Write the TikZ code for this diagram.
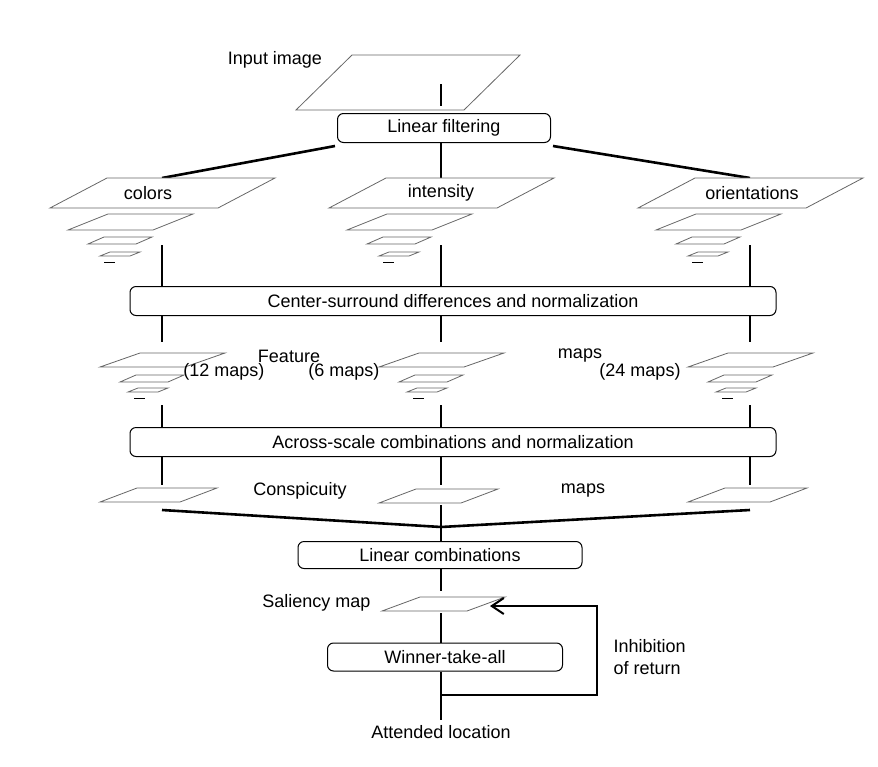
\documentclass[tikz,border=0pt]{standalone}
\usepackage{fontspec}
\setmainfont{Liberation Sans}
\usetikzlibrary{arrows.meta}
\newcommand{\colL}{162}
\newcommand{\colC}{441}
\newcommand{\colR}{750}
\newcommand{\planecolor}{black!60!white}
% bottom-left x, bottom y, width, skew, height
\newcommand{\plane}[5]{\draw[\planecolor, line width=0.8pt, fill=white] (#1,#2) -- (#1+#3,#2) -- (#1+#3+#4,#2-#5) -- (#1+#4,#2-#5) -- cycle;}
\newcommand{\pyramid}[1]{%
        \plane{#1-112}{208}{168}{57}{30}
        \plane{#1-94}{230}{85}{40}{16}
        \plane{#1-74}{244}{48}{16}{7}
        \plane{#1-62}{256}{30}{10}{4}
        \draw[line width=1pt] (#1-58,262) -- (#1-47,262);}
\newcommand{\fpyramid}[1]{%
        \plane{#1-62}{367}{85}{40}{14}
        \plane{#1-42}{382}{48}{16}{7}
        \plane{#1-34}{392}{30}{10}{4}
        \draw[line width=1pt] (#1-28,398) -- (#1-17,398);}

\begin{document}
\begin{tikzpicture}[x=1pt, y=-1pt, >=Stealth, font=\fontsize{18}{22}\selectfont]
        \tikzset{stage/.style={draw, rounded corners=6pt, line width=1pt, inner sep=0pt}}
        \tikzset{link/.style={line width=2.6pt}}
        \tikzset{gap/.style={line width=2.6pt, dash pattern=on 22pt off 8pt}}
        \useasboundingbox (0,0) rectangle (878,766);
        
        % input
        \plane{296}{110}{168}{56}{55}
        \node (input) at (275,60) {Input image};
        \coordinate (inputB) at (\colC,84);
        
        % boxes
        \node[stage, minimum width=213pt, minimum height=29pt] (filter) at (444,128) {Linear filtering};
        \node[stage, minimum width=646pt, minimum height=29pt] (center) at (453,301) {Center-surround differences and normalization};
        \node[stage, minimum width=646pt, minimum height=29pt] (across) at (453,442) {Across-scale combinations and normalization};
        \node[stage, minimum width=284pt, minimum height=27pt] (lincomb) at (440,555) {Linear combinations};
        \node[stage, minimum width=235pt, minimum height=28pt] (wta) at (445,657) {Winner-take-all};
        
        % filter links
        \coordinate (fL) at (\colL,178);
        \coordinate (fC) at (\colC,178);
        \coordinate (fR) at (\colR,178);
        \draw[link] (335,146) -- (fL);
        \draw[link] (filter.south -| fC) -- (fC);
        \draw[link] (553,146) -- (fR);
        \draw[gap] (inputB) -- (filter.north -| inputB);
        
        % pyramids
        \pyramid{\colL}
        \pyramid{\colC}
        \pyramid{\colR}
        \node (colors) at (148,193) {colors};
        \node (intensity) at (441,193) {intensity};
        \node (orient) at (752,193) {orientations};
        
        % to center-surround
        \foreach \c in {\colL,\colC,\colR} {
                \coordinate (top) at (\c,245);
                \draw[link] (top) -- (center.north -| top);
                \coordinate (bot) at (\c,405);
                \draw[link] (center.south -| bot) -- ++(0,26);
                \draw[link] (bot) -- (across.north -| bot);
                \draw[link] (across.south -| bot) -- ++(0,28);
        }
        
        % feature maps
        \fpyramid{\colL}
        \fpyramid{\colC}
        \fpyramid{\colR}
        \node (feat) at (289,356) {Feature};
        \node (featmaps) at (580,356) {maps};
        \node (nL) at (224,372) {(12 maps)};
        \node (nC) at (344,372) {(6 maps)};
        \node (nR) at (640,372) {(24 maps)};
        
        % conspicuity maps
        \coordinate (join) at (\colC,527);
        \draw[link] (\colL,510) -- (join);
        \draw[link] (\colR,510) -- (join);
        \draw[link] (\colC,505) -- (lincomb.north -| join);
        \plane{\colL-62}{502}{80}{37}{14}
        \plane{\colC-62}{503}{82}{37}{14}
        \plane{\colR-62}{502}{82}{37}{14}
        \node (consp) at (300,491) {Conspicuity};
        \node (conspmaps) at (583,491) {maps};
        
        % saliency
        \coordinate (salT) at (\colC,569);
        \coordinate (salB) at (\colC,613);
        \draw[gap] (lincomb.south -| salT) -- ++(0,27);
        \plane{382}{611}{85}{38}{14}
        \draw[link] (salB) -- (wta.north -| salB);
        \node[anchor=east] (sal) at (374,603) {Saliency map};
        
        % output
        \coordinate (att) at (\colC,720);
        \coordinate (ior) at (\colC,695);
        \coordinate (iorR) at (597,695);
        \coordinate (salR) at (490,606);
        \draw[link] (wta.south -| att) -- (att);
        \draw[line width=2.6pt, arrows={-Straight Barb[length=12pt, width=16pt, line width=2pt]}] (ior) -- (iorR) |- (salR);
        \node (attended) at (441,732) {Attended location};
        \node[anchor=north west, align=left] (inhib) at (610,636) {Inhibition\\of return};
\end{tikzpicture}
\end{document}
